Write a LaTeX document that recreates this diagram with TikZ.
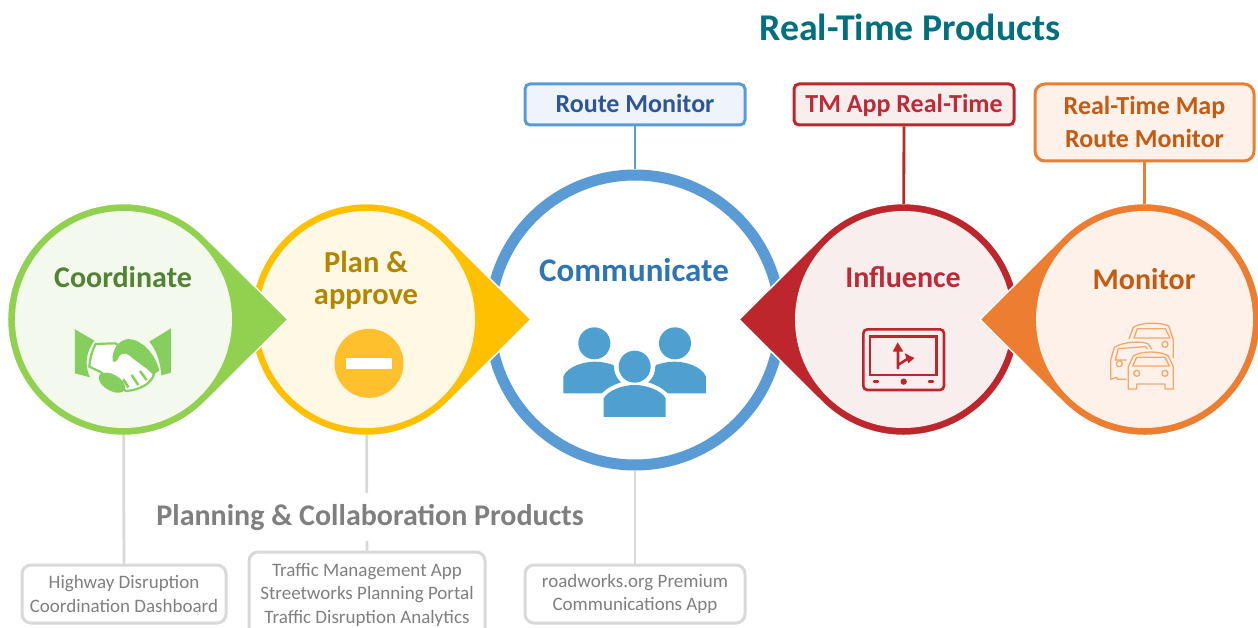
\documentclass[tikz,border=0pt]{standalone}
\usepackage{fontspec}
\setmainfont{Carlito}
\definecolor{cgreen}{HTML}{92D050}\definecolor{cgold}{HTML}{FFC000}\definecolor{cblue}{HTML}{5B9BD5}
\definecolor{cred}{HTML}{BE262E}\definecolor{corange}{HTML}{ED7D31}\definecolor{cgrey}{HTML}{D9D9D9}
\definecolor{pgreen}{HTML}{F3F9EC}\definecolor{pgold}{HTML}{FFF8E5}\definecolor{pred}{HTML}{F9EEEE}\definecolor{porange}{HTML}{FDF1E9}\definecolor{pblue}{HTML}{EFF4FB}
\definecolor{tgreen}{HTML}{548235}\definecolor{tgold}{HTML}{B38600}\definecolor{tblue}{HTML}{2E75B6}\definecolor{tred}{HTML}{BE2A35}\definecolor{torange}{HTML}{C55A11}\definecolor{tnavy}{HTML}{2F5597}\definecolor{tteal}{HTML}{00707F}\definecolor{tgrey}{HTML}{7F7F7F}
\definecolor{ihand}{HTML}{86CE5E}\definecolor{ipeople}{HTML}{4F9FD0}\definecolor{iminus}{HTML}{FFC02E}\definecolor{icar}{HTML}{F4A76B}
\tikzset{
  inner/.style={circle,inner sep=0pt,minimum size=217pt,fill=#1},
  head/.style={font=\bfseries\fontsize{30}{32}\selectfont,align=center,inner sep=0pt},
  rtbox/.style={draw=#1,line width=3pt,rounded corners=5pt,inner sep=0pt,align=center,font=\bfseries\fontsize{26}{33}\selectfont},
  pcbox/.style={draw=cgrey,line width=3pt,rounded corners=9pt,inner sep=0pt,align=center,text=tgrey,font=\fontsize{19}{23.5}\selectfont},
  link/.style={line width=2.8pt,draw=#1},
  title/.style={font=\bfseries\fontsize{37.8}{40}\selectfont,inner sep=0pt}
}
\newcommand{\teardrop}[4]{%
  \begin{scope}[shift={(#2,#3)},xscale=#4]
    \filldraw[fill=#1,draw=white,line width=1.5pt,line join=miter]
      (164.5,0) -- (82,-82) arc[start angle=-45,end angle=-315,radius=116] -- cycle;
  \end{scope}}
\begin{document}
\begin{tikzpicture}[x=1pt,y=-1pt]
\useasboundingbox (0,0) rectangle (1258,628);
% outer shapes, back to front
\node[circle,inner sep=0pt,minimum size=290pt,draw=cblue,line width=11pt,fill=white] (comm) at (635,320) {};
\teardrop{cgold}{366.5}{319.5}{1}
\node[inner=pgold] (plan) at (366.5,319.5) {};
\teardrop{cgreen}{123.5}{319.5}{1}
\node[inner=pgreen] (coord) at (123.5,319.5) {};
\teardrop{cred}{903.5}{319.5}{-1}
\node[inner=pred] (infl) at (903.5,319.5) {};
\teardrop{corange}{1144.5}{319.5}{-1}
\node[inner=porange] (moni) at (1144.5,319.5) {};
% product boxes
\node[rtbox=cblue,fill=pblue,text=tnavy,minimum width=220pt,minimum height=41pt] (brm) at (635,104.5) {\rule[-10pt]{0pt}{36pt}Route Monitor};
\node[rtbox=cred,fill=pred,text=tred,minimum width=220pt,minimum height=41pt] (btm) at (904,104.5) {\rule[-10pt]{0pt}{36pt}TM App Real-Time};
\node[rtbox=corange,fill=porange,text=torange,minimum width=219pt,minimum height=77pt,rounded corners=10pt] (brt) at (1144.5,122.5) {Real-Time Map\\Route Monitor\rule[-2pt]{0pt}{2pt}};
\node[pcbox,minimum width=204pt,minimum height=58pt] (bhd) at (124,594) {Highway Disruption\\Coordination Dashboard};
\node[pcbox,minimum width=236pt,minimum height=85pt] (btr) at (367,594.5) {Traffic Management App\\Streetworks Planning Portal\\Traffic Disruption Analytics};
\node[pcbox,minimum width=220pt,minimum height=58pt] (brw) at (635,594) {roadworks.org Premium\\Communications App};
% connectors
\draw[link=cblue] (brm) -- (comm);
\draw[link=cred,shorten >=7pt] (btm) -- (infl);
\draw[link=corange,shorten >=7pt] (brt) -- (moni);
\draw[link=cgrey,shorten <=7pt] (coord) -- (bhd);
\draw[link=cgrey,shorten <=7pt] (plan) -- (btr);
\draw[link=cgrey] (comm) -- (brw);
% titles
\node[title,text=tteal] (trt) at (910,27) {Real-Time Products};
\node[title,text=tgrey,fill=white,inner ysep=11pt,font=\bfseries\fontsize{30}{33}\selectfont] (tpc) at (370,517) {Planning \& Collaboration Products};
% heads
\node[head,text=tgreen] (lc) at (123,277) {Coordinate};
\node[head,text=tgold,font=\bfseries\fontsize{30.5}{32}\selectfont] (lp) at (366,280) {Plan \&\\approve};
\node[head,text=tblue,font=\bfseries\fontsize{33}{35}\selectfont] (lm) at (634,270) {Communicate};
\node[head,text=tred] (li) at (903,277) {Influence};
\node[head,text=torange] (lo) at (1144,279) {Monitor};
% handshake
\begin{scope}[shift={(0,190)},x=0.33333pt,y=-0.33333pt]
  \fill[ihand] (225,418) -- (283,452) .. controls (262,480) and (250,520) .. (270,562) -- (225,550) -- cycle;
  \fill[ihand] (513,415) -- (448,455) .. controls (470,480) and (482,520) .. (484,556) -- (513,548) -- cycle;
  \filldraw[fill=white,draw=ihand,line width=2.2pt] (287,462) -- (345,460) -- (400,490) -- (462,552) .. controls (455,580) and (420,600) .. (378,603) -- (340,575) -- (300,545) -- (268,530) .. controls (270,505) and (275,485) .. (287,462) -- cycle;
  \fill[ihand] (338,512) .. controls (335,480) and (355,450) .. (385,447) .. controls (425,448) and (465,490) .. (478,542) -- (462,552) -- (398,505) .. controls (385,490) and (368,485) .. (358,498) .. controls (352,515) and (342,520) .. (338,512) -- cycle;
  \fill[ihand,rotate around={-30:(336,578)}] (336,578) ellipse[x radius=44,y radius=24];
  \draw[ihand,line width=2.5pt] (370,568) -- (385,592) (395,555) -- (415,585) (420,543) -- (440,570);
\end{scope}
% minus icon
\fill[iminus] (369,363.3) circle[radius=34.5];
\fill[white] (346,358) rectangle (391.7,369.3);
% people
\begin{scope}[shift={(480,160)},x=0.33333pt,y=-0.33333pt]
  \fill[ipeople] (343,550) circle[radius=48];
  \fill[ipeople] (585,550) circle[radius=48];
  \fill[ipeople] (250,700) -- (250,650) .. controls (262,620) and (310,605) .. (345,605) .. controls (365,605) and (385,610) .. (400,615) -- (440,700) -- cycle;
  \fill[ipeople] (678,700) -- (678,650) .. controls (666,620) and (618,605) .. (583,605) .. controls (563,605) and (543,610) .. (528,615) -- (488,700) -- cycle;
  \filldraw[fill=white,draw=white,line width=2.5pt] (464,620) circle[radius=58];
  \filldraw[fill=white,draw=white,line width=2.5pt] (360,771) -- (360,712) .. controls (385,680) and (430,665) .. (464,665) .. controls (498,665) and (543,680) .. (568,712) -- (568,771) -- cycle;
  \fill[ipeople] (464,620) circle[radius=48];
  \fill[ipeople] (371,771) -- (371,715) .. controls (385,690) and (430,675) .. (464,675) .. controls (498,675) and (543,690) .. (557,715) -- (557,771) -- cycle;
\end{scope}
% navigation device
\begin{scope}[shift={(780,190)},x=0.33333pt,y=-0.33333pt]
  \draw[cred,line width=2.6pt,rounded corners=4pt] (250,418) rectangle (492,600);
  \draw[cred,line width=2.6pt] (270,440) rectangle (470,555);
  \draw[cred,line width=2.6pt,line cap=round] (354,535) -- (354,480) (354,525) -- (385,505);
  \fill[cred] (353,457) -- (370,485) -- (338,485) -- cycle;
  \fill[cred] (403,504) -- (374,490) -- (385,520) -- cycle;
  \draw[cred,line width=2.4pt,line cap=round] (282,575) -- (294,575) (447,575) -- (459,575);
  \fill[cred] (371,575) circle[radius=9.5];
\end{scope}
% cars
\begin{scope}[shift={(780,190)},x=0.33333pt,y=-0.33333pt,line width=1.3pt,icar,line join=round]
  \draw (1047,447) -- (1060,412) .. controls (1085,396) and (1140,396) .. (1166,408) -- (1180,450) -- (1180,505);
  \draw (1062,444) -- (1072,416) -- (1156,416) -- (1170,444) -- cycle;
  \draw (1155,463) circle[radius=9];
  \draw (1040,568) -- (1012,568) -- (1010,562) -- (992,568) -- (992,510) -- (1003,472) .. controls (1030,455) and (1085,452) .. (1105,462) -- (1116,478);
  \draw (1040,510) -- (1006,510) -- (1015,476) -- (1095,470) -- (1102,476);
  \draw (1018,521) circle[radius=9];
  \draw (1045,597) -- (1045,530) -- (1060,498) .. controls (1085,482) and (1140,482) .. (1165,498) -- (1180,530) -- (1180,597) -- (1155,597) -- (1155,582) -- (1070,582) -- (1070,597) -- cycle;
  \draw (1058,528) -- (1070,502) -- (1155,502) -- (1168,528) -- cycle;
  \draw (1070,550) circle[radius=9];
  \draw (1155,550) circle[radius=9];
\end{scope}
\end{tikzpicture}
\end{document}
